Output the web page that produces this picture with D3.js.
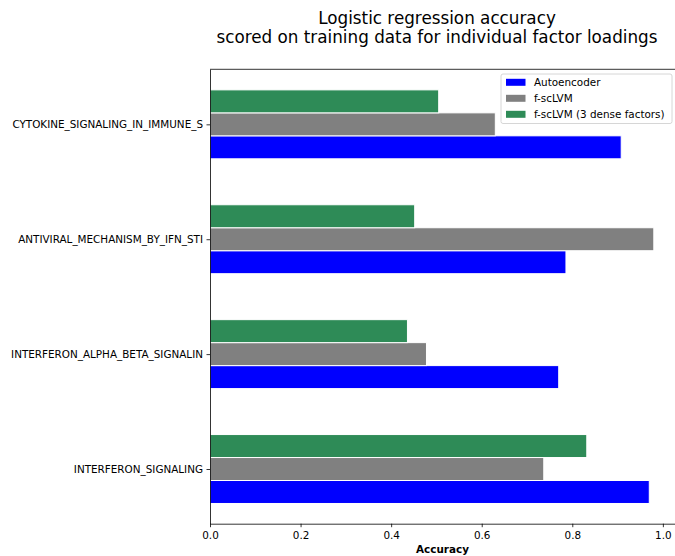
<!DOCTYPE html>
<html>
<head>
<meta charset="utf-8">
<script src="https://cdn.jsdelivr.net/npm/d3@7"></script>
<style>
  body { margin: 0; background: #fff; }
  svg text { font-family: "DejaVu Sans", sans-serif; }
</style>
</head>
<body>
<div class="chart"></div>
<script>
// categories listed bottom to top (matplotlib barh order)
var pathways = ["INTERFERON_SIGNALING", "INTERFERON_ALPHA_BETA_SIGNALIN", "ANTIVIRAL_MECHANISM_BY_IFN_STI", "CYTOKINE_SIGNALING_IN_IMMUNE_S"];
var seriesNames = ["Autoencoder", "f-scLVM", "f-scLVM (3 dense factors)"];
var seriesColors = ["#0000ff", "#808080", "#2e8b57"];
var autoencoder = [0.970, 0.770, 0.786, 0.908];
var fscLVM = [0.737, 0.478, 0.980, 0.630];
var fscLVMDense = [0.832, 0.436, 0.452, 0.505];
var xTicks = [0, 0.2, 0.4, 0.6, 0.8, 1.0];

var width = 675;
var height = 556;
var margin = {top: 69.3, left: 210, right: -1, bottom: 32.3};
var fontSize = "10.4px";

var svg = d3.select(".chart")
    .append("svg")
    .attr("width", width)
    .attr("height", height);

var xScale = d3.scaleLinear()
    .domain([0, 1.029])
    .range([margin.left, width - margin.right]);

var yScale = d3.scaleLinear()
    .domain([-0.476, 3.479])
    .range([height - margin.bottom, margin.top]);

var barH = 0.2;
var allSeries = [autoencoder, fscLVM, fscLVMDense];

allSeries.forEach(function(values, s) {
    var offset = (s - 1) * barH;
    svg.append("g").selectAll("rect")
        .data(values)
        .enter()
        .append("rect")
        .attr("x", xScale(0))
        .attr("y", function(d, i) { return yScale(i + offset + barH / 2); })
        .attr("width", function(d) { return xScale(d) - xScale(0); })
        .attr("height", yScale(0) - yScale(barH))
        .attr("fill", seriesColors[s])
        .attr("stroke", "#fff")
        .attr("stroke-width", 1);
});

// axes
var xAxis = svg.append("g")
    .attr("transform", `translate(0,${height - margin.bottom})`)
    .call(d3.axisBottom(xScale).tickValues(xTicks).tickFormat(d3.format(".1f")).tickSize(3.5).tickSizeOuter(0));

var yAxis = svg.append("g")
    .attr("transform", `translate(${margin.left},0)`)
    .call(d3.axisLeft(yScale).tickValues([0, 1, 2, 3]).tickFormat(function(d) { return pathways[d]; }).tickSize(3.5).tickSizeOuter(0));

[xAxis, yAxis].forEach(function(a) {
    a.attr("font-family", null).attr("font-size", null);
    a.selectAll("text").attr("fill", "#000").style("font-size", fontSize);
    a.selectAll("line").attr("stroke", "#000").attr("stroke-width", 0.8);
    a.select(".domain").attr("stroke", "#000").attr("stroke-width", 0.8);
});
xAxis.selectAll("text").attr("dy", "0.95em").attr("y", 5.5);
yAxis.selectAll("text").attr("x", -7);

// top spine
svg.append("line")
    .attr("x1", margin.left).attr("x2", width)
    .attr("y1", margin.top).attr("y2", margin.top)
    .attr("stroke", "#000").attr("stroke-width", 0.8);

svg.append("text")
    .attr("x", (margin.left + width) / 2)
    .attr("y", 553)
    .attr("text-anchor", "middle")
    .style("font-size", fontSize)
    .style("font-weight", "bold")
    .text("Accuracy");

// title
var title = svg.append("text")
    .attr("text-anchor", "middle")
    .style("font-size", "16.8px");
title.append("tspan").attr("x", 437).attr("y", 23.5).text("Logistic regression accuracy");
title.append("tspan").attr("x", 437).attr("y", 42.5).text("scored on training data for individual factor loadings");

// legend
var legend = svg.append("g").attr("transform", "translate(501,74)");
legend.append("rect")
    .attr("width", 171).attr("height", 49.5)
    .attr("rx", 2)
    .attr("fill", "#fff").attr("fill-opacity", 0.8)
    .attr("stroke", "#ccc").attr("stroke-width", 0.8);

var entries = legend.selectAll("g.entry")
    .data(seriesNames)
    .enter()
    .append("g")
    .attr("class", "entry")
    .attr("transform", function(d, i) { return `translate(0,${8.3 + i * 16})`; });

entries.append("rect")
    .attr("x", 5).attr("y", -3.5)
    .attr("width", 19.5).attr("height", 7)
    .attr("fill", function(d, i) { return seriesColors[i]; });

entries.append("text")
    .attr("x", 33).attr("y", 0)
    .attr("dy", "0.35em")
    .style("font-size", fontSize)
    .text(function(d) { return d; });
</script>
</body>
</html>
